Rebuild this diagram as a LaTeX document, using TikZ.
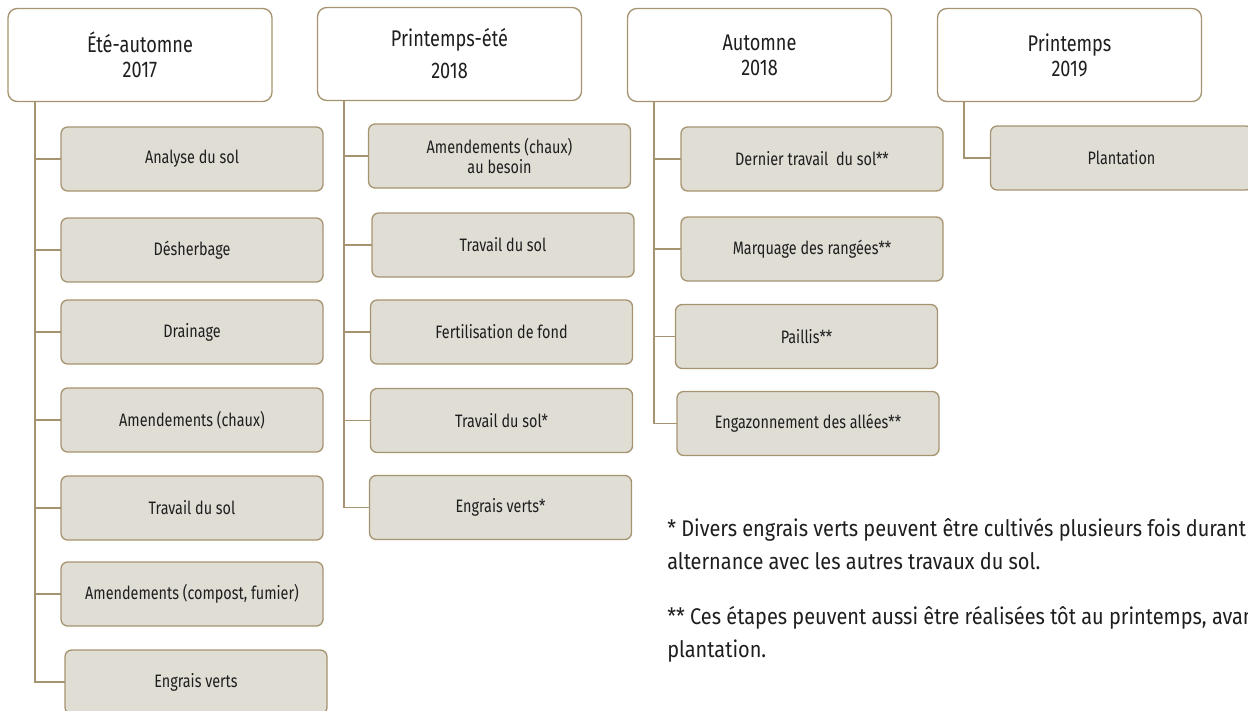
\documentclass[tikz,border=0pt]{standalone}
\usepackage{fontspec}
\setmainfont{Fira Sans}[FakeStretch=0.8]
\newfontfamily\notefont{Fira Sans}[FakeStretch=0.88]
\usepackage{xcolor}
\usepackage{tikz}
\usetikzlibrary{calc}
\definecolor{taupe}{RGB}{166,148,112}
\definecolor{greige}{RGB}{224,221,213}
\definecolor{ink}{RGB}{30,30,30}
\tikzset{
    season/.style = {
        draw           = taupe,
        fill           = white,
        line width     = 1pt,
        rounded corners = 7pt,
        minimum width  = 198pt,
        minimum height = 69.75pt,
        inner sep      = 0pt,
        outer sep      = 0pt,
        align          = center,
        text           = ink,
        font           = \fontsize{17}{18.75}\selectfont,
    },
    task/.style = {
        draw           = taupe,
        fill           = greige,
        line width     = 1pt,
        rounded corners = 5pt,
        minimum width  = 196.5pt,
        minimum height = 48pt,
        inner sep      = 0pt,
        outer sep      = 0pt,
        align          = center,
        text           = ink,
        font           = \fontsize{13.5}{14.5}\selectfont,
    },
    branch/.style = {draw = taupe, line width = 1.1pt},
    note/.style = {
        anchor    = base west,
        inner sep = 0pt,
        text      = ink,
        font      = \notefont\fontsize{17}{20}\selectfont,
    },
}
\begin{document}
\begin{tikzpicture}[x=0.75pt, y=-0.75pt]
        \useasboundingbox (0,0) rectangle (1248,710);

        \node (h1) [season] at (140,55) {Été-automne\\2017};
        \node (h2) [season, font=\fontsize{17}{24}\selectfont] at (449.5,54) {Printemps-été\\2018};
        \node (h3) [season] at (759.5,55) {Automne\\2018};
        \node (h4) [season] at (1069.5,55) {Printemps\\2019};

        \coordinate (t1) at (35,0);
        \coordinate (t2) at (344,0);
        \coordinate (t3) at (654,0);
        \coordinate (t4) at (964,0);

        \node (a1) [task] at (192,159) {Analyse du sol};
        \node (a2) [task] at (192,250) {Désherbage};
        \node (a3) [task] at (192,332) {Drainage};
        \node (a4) [task] at (192,420) {Amendements (chaux)};
        \node (a5) [task] at (192,508) {Travail du sol};
        \node (a6) [task] at (192,594) {Amendements (compost, fumier)};
        \node (a7) [task] at (196,682) {Engrais verts};

        \node (b1) [task] at (499.5,156) {Amendements (chaux)\\au besoin};
        \node (b2) [task] at (503,245) {Travail du sol};
        \node (b3) [task] at (501.5,332) {Fertilisation de fond};
        \node (b4) [task] at (501.5,420.5) {Travail du sol*};
        \node (b5) [task] at (500.5,507.5) {Engrais verts*};

        \node (c1) [task] at (812,159) {Dernier travail~~du sol**};
        \node (c2) [task] at (812,249) {Marquage des rangées**};
        \node (c3) [task] at (806.5,336.5) {Paillis**};
        \node (c4) [task] at (808,423.5) {Engazonnement des allées**};

        \node (d1) [task] at (1121.5,158) {Plantation};

        \foreach \b in {a1,a2,a3,a4,a5,a6,a7}
            \draw [branch] (t1 |- h1.south) |- (\b.west);
        \foreach \b in {b1,b2,b3,b4,b5}
            \draw [branch] (t2 |- h2.south) |- (\b.west);
        \foreach \b in {c1,c2,c3,c4}
            \draw [branch] (t3 |- h3.south) |- (\b.west);
        \draw [branch] (t4 |- h4.south) |- (d1.west);

        \node (n1) [note] at (667,536) {* Divers engrais verts peuvent être cultivés plusieurs fois durant};
        \node (n2) [note] at (667,569) {alternance avec les autres travaux du sol.};
        \node (n3) [note] at (667,624) {** Ces étapes peuvent aussi être réalisées tôt au printemps, avant};
        \node (n4) [note] at (667,657) {plantation.};

    \end{tikzpicture}
\end{document}
